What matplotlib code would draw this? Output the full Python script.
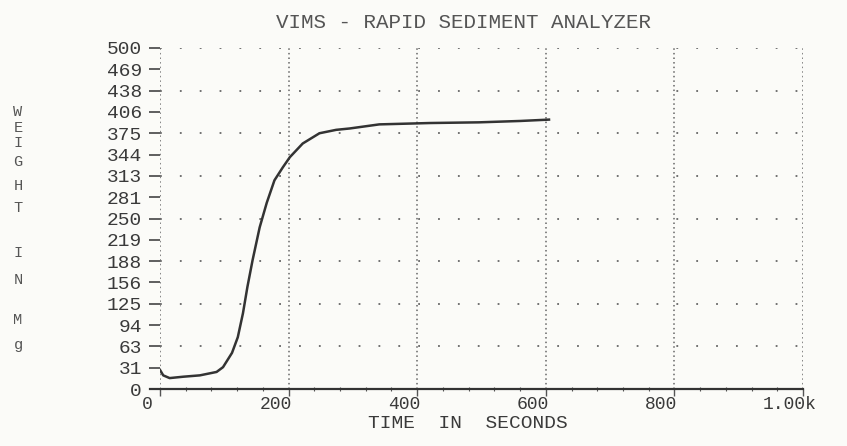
import matplotlib.pyplot as plt
from matplotlib.transforms import ScaledTranslation

# time (s) and weight (mg)
time_s = [0, 5, 15, 36, 62, 88, 98, 112, 121, 129, 136, 144, 155, 166, 178,
          191, 202, 222, 248, 274, 295, 341, 420, 496, 560, 605]
weight_mg = [28, 20, 16, 18, 20, 25, 32, 53, 76, 111, 150, 189, 237, 273, 306,
             325, 340, 360, 375, 380, 382, 388, 390, 391, 393, 395]

y_ticks = [0, 31.25, 62.5, 93.75, 125, 156.25, 187.5, 218.75, 250, 281.25,
           312.5, 343.75, 375, 406.25, 437.5, 468.75, 500]
y_labels = ["0", "31", "63", "94", "125", "156", "188", "219", "250", "281",
            "313", "344", "375", "406", "438", "469", "500"]
x_ticks = [0, 200, 400, 600, 800, 1000]
x_labels = ["0", "200", "400", "600", "800", "1.00k"]

ylab_letters = ["W", "E", "I", "G", "H", "T", "I", "N", "M", "g"]
ylab_pos = [112, 128, 143, 162, 186, 208, 253, 280, 320, 345]  # pixel rows

ink = "#3a3a3a"
mono = ["Liberation Mono", "DejaVu Sans Mono"]

fig = plt.figure(figsize=(8.47, 4.46), dpi=100, facecolor="#fbfbf8")
ax = fig.add_axes([160 / 847, 57 / 446, 643 / 847, 341 / 446])
ax.set_facecolor("#fbfbf8")

ax.set_xlim(0, 1000)
ax.set_ylim(0, 500)

# grid
for y in y_ticks[2::2]:
    ax.axhline(y, color="#666666", lw=1.3, ls=(0, (1, 10)), zorder=1)
for x in x_ticks:
    ax.axvline(x, color="#666666", lw=1.1, ls=(0, (1, 2)), zorder=1)

# curve
ax.plot(time_s, weight_mg, color="#333333", lw=1.8, zorder=3)

# base line, slightly past zero
ax.plot([-15, 1000], [0, 0], color="#333333", lw=1.6, clip_on=False, zorder=4)

for s in ax.spines.values():
    s.set_visible(False)

ax.set_yticks(y_ticks)
ax.set_yticklabels(y_labels, family=mono, fontsize=14, color=ink)
ax.tick_params(axis="y", length=8, width=1.2, color="#444444", pad=5)

ax.set_xticks(x_ticks)
ax.set_xticklabels(x_labels, family=mono, fontsize=13, color=ink)
ax.tick_params(axis="x", length=5, width=1.0, color="#555555", pad=0)
ax.set_xticks(range(0, 1001, 40), minor=True)
ax.tick_params(axis="x", which="minor", length=3, width=0.8, color="#555555",
               direction="inout")
shift = ScaledTranslation(-13 / 100, 0, fig.dpi_scale_trans)
for lab in ax.get_xticklabels():
    lab.set_transform(lab.get_transform() + shift)

fig.text(463 / 847, 1 - 22 / 446, "VIMS - RAPID SEDIMENT ANALYZER",
         family=mono, fontsize=15, color="#555555", ha="center", va="center")
fig.text(468 / 847, 1 - 424 / 446, "TIME  IN  SECONDS",
         family=mono, fontsize=14, color=ink, ha="center", va="center")

for ch, py in zip(ylab_letters, ylab_pos):
    fig.text(18 / 847, 1 - py / 446, ch, family=mono, fontsize=11,
             color="#555555", ha="center", va="center")

fig.savefig("out.png", dpi=100, facecolor=fig.get_facecolor())
